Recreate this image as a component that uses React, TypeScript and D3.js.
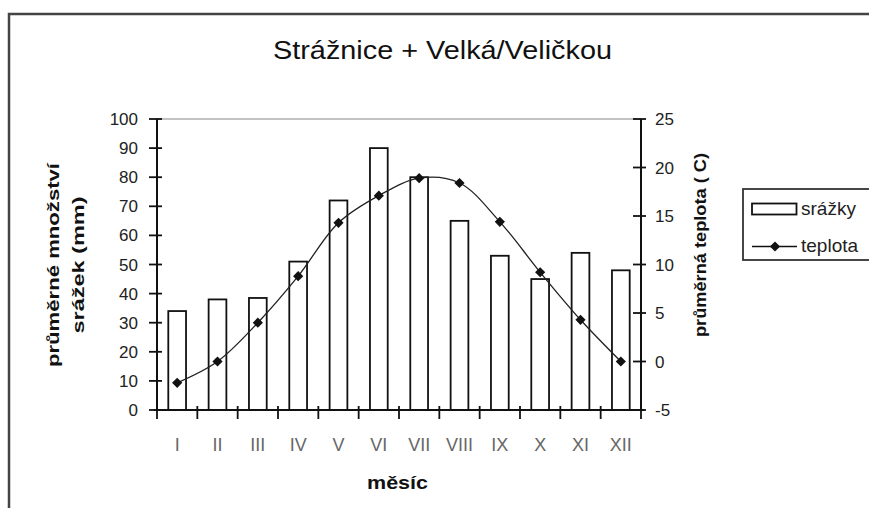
import React from "react";
import * as d3 from "d3";

const months = ["I", "II", "III", "IV", "V", "VI", "VII", "VIII", "IX", "X", "XI", "XII"];
const precipitation = [34, 38, 38.5, 51, 72, 90, 80, 65, 53, 45, 54, 48];
const temperature = [-2.2, 0, 4, 8.8, 14.3, 17.1, 18.9, 18.4, 14.4, 9.2, 4.3, 0];
const leftTicks = [0, 10, 20, 30, 40, 50, 60, 70, 80, 90, 100];
const rightTicks = [-5, 0, 5, 10, 15, 20, 25];

const W = 869;
const H = 508;
const plot = { left: 157, right: 641, top: 119, bottom: 410 };
const FONT = "'Liberation Sans', Arial, sans-serif";

export default function App() {
  const x = d3
    .scaleBand<string>()
    .domain(months)
    .range([plot.left, plot.right])
    .paddingInner(0.56)
    .paddingOuter(0.28);
  const yL = d3.scaleLinear().domain([0, 100]).range([plot.bottom, plot.top]);
  const yR = d3.scaleLinear().domain([-5, 25]).range([plot.bottom, plot.top]);
  const step = (plot.right - plot.left) / months.length;

  const line = d3
    .line<number>()
    .x((_, i) => (x(months[i]) as number) + x.bandwidth() / 2)
    .y((d) => yR(d))
    .curve(d3.curveCatmullRom.alpha(0.5));

  const marker = d3.symbol().type(d3.symbolSquare).size(52)() as string;

  return (
    <svg
      width={W}
      height={H}
      style={{ position: "absolute", left: 0, top: 0, background: "#fff" }}
      fontFamily={FONT}
    >
      {/* outer frame */}
      <path d={`M9,${H + 5} V14 H${W + 5}`} fill="none" stroke="#444" strokeWidth={2.5} />

      {/* title */}
      <text x={273} y={59} fontSize={25} textLength={339} lengthAdjust="spacingAndGlyphs" fill="#111">
        Strážnice + Velká/Veličkou
      </text>

      {/* top grid line */}
      <line x1={plot.left} x2={plot.right} y1={plot.top} y2={plot.top} stroke="#888" strokeWidth={1.2} />

      {/* bars */}
      {precipitation.map((v, i) => (
        <rect
          key={months[i]}
          x={x(months[i])}
          y={yL(v)}
          width={x.bandwidth()}
          height={plot.bottom - yL(v)}
          fill="#fff"
          stroke="#111"
          strokeWidth={1.8}
        />
      ))}

      {/* left axis */}
      <line x1={plot.left} x2={plot.left} y1={plot.top} y2={plot.bottom} stroke="#111" strokeWidth={2} />
      {leftTicks.map((t) => (
        <g key={t}>
          <line x1={plot.left - 8} x2={plot.left + 5} y1={yL(t)} y2={yL(t)} stroke="#111" strokeWidth={1.8} />
          <text x={138} y={yL(t) + 6} fontSize={17} textAnchor="end" fill="#222">
            {t}
          </text>
        </g>
      ))}

      {/* right axis */}
      <line x1={plot.right} x2={plot.right} y1={plot.top} y2={plot.bottom} stroke="#111" strokeWidth={2} />
      {rightTicks.map((t) => (
        <g key={t}>
          <line x1={plot.right - 8} x2={plot.right + 5} y1={yR(t)} y2={yR(t)} stroke="#111" strokeWidth={1.8} />
          <text x={655} y={yR(t) + 6} fontSize={17} textAnchor="start" fill="#222">
            {t}
          </text>
        </g>
      ))}

      {/* x axis */}
      <line x1={plot.left - 3} x2={plot.right + 3} y1={plot.bottom} y2={plot.bottom} stroke="#111" strokeWidth={2} />
      {d3.range(months.length + 1).map((i) => (
        <line
          key={i}
          x1={plot.left + i * step}
          x2={plot.left + i * step}
          y1={plot.bottom - 4}
          y2={plot.bottom + 9}
          stroke="#111"
          strokeWidth={1.8}
        />
      ))}
      {months.map((m) => (
        <text
          key={m}
          x={(x(m) as number) + x.bandwidth() / 2}
          y={451}
          fontSize={18}
          textAnchor="middle"
          fill="#666"
        >
          {m}
        </text>
      ))}

      {/* temperature line */}
      <path d={line(temperature) as string} fill="none" stroke="#222" strokeWidth={1.3} />
      {temperature.map((t, i) => (
        <path
          key={i}
          d={marker}
          transform={`translate(${(x(months[i]) as number) + x.bandwidth() / 2},${yR(t)}) rotate(45)`}
          fill="#111"
        />
      ))}

      {/* axis titles */}
      <text x={397.5} y={489} fontSize={19} fontWeight="bold" textAnchor="middle" textLength={61} lengthAdjust="spacingAndGlyphs" fill="#111">
        měsíc
      </text>
      <g transform="translate(59,265) rotate(-90)">
        <text x={0} y={0} fontSize={16} fontWeight="bold" textAnchor="middle" textLength={204} lengthAdjust="spacingAndGlyphs" fill="#111">
          průměrné množství
        </text>
        <text x={0} y={25} fontSize={16} fontWeight="bold" textAnchor="middle" textLength={137} lengthAdjust="spacingAndGlyphs" fill="#111">
          srážek (mm)
        </text>
      </g>
      <g transform="translate(706,245) rotate(-90)">
        <text x={0} y={0} fontSize={16} fontWeight="bold" textAnchor="middle" textLength={184} lengthAdjust="spacingAndGlyphs" fill="#111">
          průměrná teplota ( C)
        </text>
      </g>

      {/* legend */}
      <rect x={743} y={189} width={140} height={71} fill="#fff" stroke="#333" strokeWidth={1.8} />
      <rect x={752} y={203.5} width={44.5} height={11} fill="#fff" stroke="#111" strokeWidth={1.8} />
      <text x={801} y={215} fontSize={19} fill="#222">
        srážky
      </text>
      <line x1={752} x2={797} y1={246.5} y2={246.5} stroke="#111" strokeWidth={1.5} />
      <path d={marker} transform="translate(775,246.5) rotate(45)" fill="#111" />
      <text x={801} y={252} fontSize={19} fill="#222">
        teplota
      </text>
    </svg>
  );
}
